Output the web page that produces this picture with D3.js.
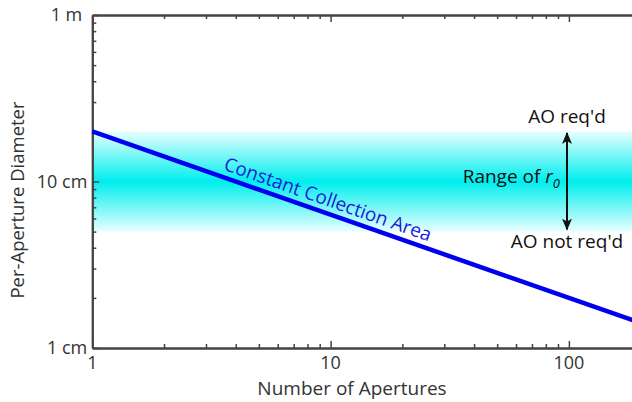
<!DOCTYPE html>
<html>
<head>
<meta charset="utf-8">
<script src="https://cdn.jsdelivr.net/npm/d3@7"></script>
<style>
  html, body { margin: 0; padding: 0; background: #fff; overflow: hidden; }
  svg { display: block; }
  text { font-family: "Open Sans", "Noto Sans", sans-serif; fill: #333; }
</style>
</head>
<body>
<svg id="chart" width="640" height="402"></svg>
<script>
// ---- data ----
const xDomain = [1, 200];                 // number of apertures
const yDomain = [1, 100];                 // diameter in cm
const xMajorTicks = [1, 10, 100];
const xTickLabels = ["1", "10", "100"];
const xMinorTicks = [2, 3, 4, 5, 6, 7, 8, 9, 20, 30, 40, 50, 60, 70, 80, 90, 200];
const yMajorTicks = [1, 10, 100];
const yTickLabels = ["1 cm", "10 cm", "1 m"];
const yMinorTicks = [2, 3, 4, 5, 6, 7, 8, 9, 20, 30, 40, 50, 60, 70, 80, 90];
const apertures = [1, 200];                // constant collection area line
const diameters = [20, 1.414];             // cm
const r0Range = [5, 20];                   // cm, range of r0
const lineLabel = "Constant Collection Area";
const xTitle = "Number of Apertures";
const yTitle = "Per-Aperture Diameter";

// ---- layout ----
const pL = 92.3, pT = 15, pB = 348, decadeX = 238.3;
const svg = d3.select("#chart");
const x = d3.scaleLog().domain(xDomain).range([pL, pL + Math.log10(xDomain[1]) * decadeX]);
const y = d3.scaleLog().domain(yDomain).range([pB, pT]);
const pR = x.range()[1];

// gradient for r0 band
const defs = svg.append("defs");
const grad = defs.append("linearGradient").attr("id", "band")
  .attr("x1", 0).attr("y1", 0).attr("x2", 0).attr("y2", 1);
grad.append("stop").attr("offset", "0%").attr("stop-color", "#e8ffff");
grad.append("stop").attr("offset", "50%").attr("stop-color", "#00eeee");
grad.append("stop").attr("offset", "100%").attr("stop-color", "#e8ffff");

defs.append("marker").attr("id", "ah")
  .attr("viewBox", "0 0 12 10").attr("refX", 11).attr("refY", 5)
  .attr("markerWidth", 12).attr("markerHeight", 10)
  .attr("markerUnits", "userSpaceOnUse")
  .attr("orient", "auto-start-reverse")
  .append("path").attr("d", "M0,0 L12,5 L0,10 L3,5 Z").attr("fill", "#111");

// band
svg.append("rect")
  .attr("x", x(xDomain[0])).attr("width", pR - x(xDomain[0]))
  .attr("y", y(r0Range[1])).attr("height", y(r0Range[0]) - y(r0Range[1]))
  .attr("fill", "url(#band)");

// axes
const axisColor = "#444";
function styleAxis(g) {
  g.selectAll("path.domain").attr("stroke", axisColor).attr("stroke-width", 2);
  g.selectAll(".tick line").attr("stroke", axisColor).attr("stroke-width", 1.5);
  g.selectAll(".tick text").remove();
}
const mk = (gen, scale, vals, size, tr) => {
  svg.append("g").attr("transform", tr)
    .call(gen(scale).tickValues(vals).tickSizeInner(size).tickSizeOuter(0).tickFormat(""))
    .call(styleAxis);
};
mk(d3.axisBottom, x, xMajorTicks, -7, `translate(0,${pB})`);
mk(d3.axisBottom, x, xMinorTicks, -4, `translate(0,${pB})`);
mk(d3.axisTop, x, xMajorTicks, -7, `translate(0,${pT})`);
mk(d3.axisTop, x, xMinorTicks, -4, `translate(0,${pT})`);
mk(d3.axisLeft, y, yMajorTicks, -7, `translate(${pL},0)`);
mk(d3.axisLeft, y, yMinorTicks, -4, `translate(${pL},0)`);
mk(d3.axisRight, y, yMajorTicks, -7, `translate(${pR},0)`);
mk(d3.axisRight, y, yMinorTicks, -4, `translate(${pR},0)`);

// tick labels
svg.append("g").selectAll("text").data(xMajorTicks).join("text")
  .attr("x", d => x(d)).attr("y", pB + 21)
  .attr("text-anchor", "middle").attr("font-size", 18)
  .text((d, i) => xTickLabels[i]);
svg.append("g").selectAll("text").data(yMajorTicks).join("text")
  .attr("x", d => pL - (d === 100 ? 10 : 5)).attr("y", d => y(d)).attr("dy", "0.35em")
  .attr("text-anchor", "end").attr("font-size", 18)
  .text((d, i) => yTickLabels[i]);

// titles
svg.append("text").attr("x", 352).attr("y", 395)
  .attr("text-anchor", "middle").attr("font-size", 19).text(xTitle);
svg.append("text").attr("transform", `translate(24,200) rotate(-90)`)
  .attr("text-anchor", "middle").attr("font-size", 18.5).text(yTitle);

// constant collection area line
const pts = apertures.map((a, i) => [a, diameters[i]]);
svg.append("path").datum(pts)
  .attr("d", d3.line().x(d => x(d[0])).y(d => y(d[1])))
  .attr("fill", "none").attr("stroke", "#0000f0").attr("stroke-width", 4.5);

// rotated label
const lx0 = x(pts[0][0]), ly0 = y(pts[0][1]), lx1 = x(pts[1][0]), ly1 = y(pts[1][1]);
const ang = Math.atan2(ly1 - ly0, lx1 - lx0) * 180 / Math.PI;
const labN = 3.45;
const labD = Math.exp(d3.interpolateNumber(Math.log(diameters[0]), Math.log(diameters[1]))(Math.log(labN) / Math.log(apertures[1])));
svg.append("text")
  .attr("transform", `translate(${x(labN)},${y(labD)}) rotate(${ang})`)
  .attr("dy", -7).attr("font-size", 19).style("fill", "#1c1cd8")
  .text(lineLabel);

// r0 annotation
const ax = 567;
svg.append("line").attr("x1", ax).attr("x2", ax)
  .attr("y1", y(r0Range[1]) + 1.5).attr("y2", y(r0Range[0]) - 2)
  .attr("stroke", "#111").attr("stroke-width", 2)
  .attr("marker-start", "url(#ah)").attr("marker-end", "url(#ah)");
svg.append("text").attr("x", ax).attr("y", 123).attr("text-anchor", "middle")
  .attr("font-size", 19).style("fill", "#111").text("AO req'd");
svg.append("text").attr("x", ax).attr("y", 248).attr("text-anchor", "middle")
  .attr("font-size", 19).style("fill", "#111").text("AO not req'd");
const rt = svg.append("text").attr("x", 560).attr("y", 183).attr("text-anchor", "end")
  .attr("font-size", 19).style("fill", "#111");
rt.append("tspan").text("Range of ");
rt.append("tspan").attr("font-style", "italic").text("r");
rt.append("tspan").attr("font-style", "italic").attr("font-size", 13).attr("dy", 5).text("0");
</script>
</body>
</html>
